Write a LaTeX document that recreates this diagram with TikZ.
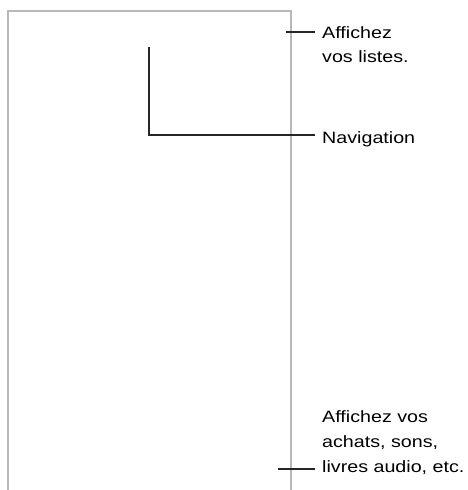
\documentclass[tikz,border=0pt]{standalone}
\usepackage{fontspec}
\setmainfont{Liberation Sans}[FakeStretch=1.2]
\begin{document}
\begin{tikzpicture}[x=1pt,y=-1pt,
  frame/.style={draw=black!28,line width=1.1pt},
  leader/.style={draw=black!85,line width=1.3pt,shorten >=7pt},
  label/.style={inner sep=0pt,anchor=base west,align=left,
    font=\fontsize{16.4}{24.7}\selectfont}]
\useasboundingbox (0,0) rectangle (467,490);
% screen frame (open at bottom)
\draw[frame] (8,491) -- (8,11) -- (291,11) -- (291,491);
% labels (base anchor = baseline of last line)
\node[label] (lists) at (322,62.7) {Affichez\\vos listes.};
\node[label] (nav) at (322,143) {Navigation};
\node[label] (buy) at (322,472.3) {Affichez vos\\achats, sons,\\livres audio, etc.};
% leader ends
\coordinate (listsend) at (286,32);
\coordinate (navend) at (149,47);
\coordinate (navcorner) at (149,135);
\coordinate (buyend) at (278,469);
% connectors
\draw[leader] (listsend) -- (listsend -| lists.west);
\draw[leader] (navend) -- (navcorner) -- (navcorner -| nav.west);
\draw[leader] (buyend) -- (buyend -| buy.west);
\end{tikzpicture}
\end{document}
